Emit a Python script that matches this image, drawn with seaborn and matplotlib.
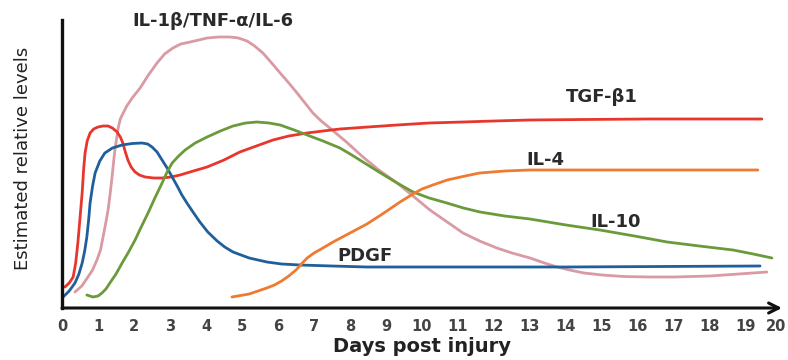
import matplotlib
matplotlib.use("Agg")
import matplotlib.pyplot as plt
import matplotlib.transforms as mtransforms
import seaborn as sns
import pandas as pd

# values (days post injury, relative level in arbitrary units)
tgf_days = [0.08, 0.2, 0.31, 0.38, 0.44, 0.5, 0.56, 0.6, 0.64, 0.7, 0.78, 0.88, 1.0, 1.14, 1.28,
            1.4, 1.53, 1.62, 1.69, 1.76, 1.83, 1.92, 2.03, 2.15, 2.31, 2.55, 2.78, 3.03, 3.28,
            3.65, 4.03, 4.5, 4.94, 5.4, 5.86, 6.3, 6.81, 7.25, 7.72, 8.5, 9.31, 10.2, 11.14,
            12.0, 13.0, 14.5, 16.3, 19.44]
tgf_level = [21, 25, 31, 45, 65, 90, 115, 138, 155, 167, 175, 179, 181, 182, 182,
             180, 176, 171, 165, 156, 148, 141, 136, 133, 131, 130, 130, 131, 133,
             137, 141, 148, 156, 162, 168, 172, 175, 177, 179, 181, 183, 185, 186,
             187, 188, 188.5, 189, 189]

pdgf_days = [0.03, 0.2, 0.36, 0.47, 0.56, 0.63, 0.69, 0.74, 0.78, 0.85, 0.92, 1.05, 1.19, 1.4,
             1.67, 1.95, 2.22, 2.38, 2.5, 2.64, 2.78, 2.92, 3.06, 3.2, 3.33, 3.47, 3.6, 3.83,
             4.05, 4.31, 4.52, 4.75, 5.2, 5.69, 6.1, 6.61, 7.5, 8.47, 10.5, 14.0, 19.39]
pdgf_level = [11, 17, 25, 34, 45, 57, 71, 88, 105, 122, 135, 147, 155, 160,
              163, 164.5, 165, 164, 161, 156, 148, 140, 131, 122, 113, 105, 98, 86,
              76, 67, 61, 56, 50, 46, 44, 43, 42, 41, 41, 41, 42]

il1_days = [0.36, 0.55, 0.72, 0.85, 0.97, 1.07, 1.14, 1.21, 1.28, 1.34, 1.39, 1.43, 1.47, 1.52,
            1.56, 1.62, 1.7, 1.8, 1.95, 2.17, 2.4, 2.64, 2.85, 3.08, 3.3, 3.56, 3.8, 4.03, 4.35,
            4.67, 4.9, 5.14, 5.35, 5.58, 5.8, 6.06, 6.3, 6.53, 6.75, 6.97, 7.2, 7.44, 7.9,
            8.36, 8.8, 9.31, 9.75, 10.22, 10.7, 11.14, 11.6, 12.08, 12.5, 13.0, 13.4, 13.75,
            14.1, 14.5, 15.0, 15.6, 16.3, 17.0, 18.0, 18.8, 19.58]
il1_level = [16, 22, 31, 38, 48, 58, 71, 84, 98, 115, 131, 145, 158, 170,
             180, 189, 195, 202, 210, 220, 233, 245, 254, 260, 264, 266, 268, 270, 271,
             271, 270, 267, 262, 255, 246, 235, 225, 215, 205, 195, 187, 180, 166,
             151, 138, 125, 112, 98, 86, 75, 67, 60, 55, 50, 45, 41,
             38, 35, 33, 31.5, 31, 31, 32, 34, 36]

il10_days = [0.69, 0.86, 1.0, 1.11, 1.22, 1.33, 1.5, 1.67, 1.85, 2.03, 2.2, 2.39, 2.58, 2.78,
             2.92, 3.06, 3.24, 3.42, 3.7, 4.03, 4.4, 4.75, 5.1, 5.42, 5.75, 6.06, 6.45, 6.81,
             7.25, 7.72, 8.05, 8.36, 8.85, 9.31, 9.75, 10.2, 10.69, 11.15, 11.61, 12.3, 13.0,
             14.0, 14.94, 15.9, 16.81, 17.7, 18.64, 19.2, 19.72]
il10_level = [13, 11, 12, 15, 19, 25, 34, 45, 56, 68, 81, 95, 110, 125,
              136, 145, 152, 158, 165, 171, 177, 182, 185, 186, 185, 183, 178, 173,
              167, 160, 153, 146, 135, 125, 116, 110, 105, 100, 96, 92, 89,
              83, 78, 72, 66, 62, 58, 54, 50]

il4_days = [4.72, 5.2, 5.69, 5.9, 6.1, 6.3, 6.5, 6.65, 6.81, 7.0, 7.2, 7.53, 8.0, 8.47, 8.9,
            9.39, 9.75, 10.0, 10.3, 10.7, 11.2, 11.6, 12.3, 13.0, 16.0, 19.33]
il4_level = [11, 14, 20, 23, 27, 32, 38, 44, 50, 55, 59, 66, 75, 84, 94,
             106, 114, 119, 123, 128, 132, 135, 137, 138, 138, 138]

series = {
    "IL-1β/TNF-α/IL-6": (il1_days, il1_level),
    "TGF-β1": (tgf_days, tgf_level),
    "PDGF": (pdgf_days, pdgf_level),
    "IL-10": (il10_days, il10_level),
    "IL-4": (il4_days, il4_level),
}
colors = {
    "IL-1β/TNF-α/IL-6": "#d99aa3",
    "TGF-β1": "#e8362d",
    "PDGF": "#1f5f9a",
    "IL-10": "#6b9a3b",
    "IL-4": "#ef7a32",
}
# label positions (day, level)
label_pos = {
    "IL-1β/TNF-α/IL-6": (4.19, 287),
    "TGF-β1": (15.0, 211),
    "IL-4": (13.44, 148),
    "IL-10": (15.39, 86),
    "PDGF": (8.42, 52),
}

rows = []
for name, (d, v) in series.items():
    for x, y in zip(d, v):
        rows.append({"day": x, "level": y, "marker": name})
df = pd.DataFrame(rows)

sns.set_theme(style="white")
plt.rcParams["font.family"] = ["DejaVu Sans"]

fig = plt.figure(figsize=(7.88, 3.6), dpi=100)
ax = fig.add_axes([62 / 788, 52 / 360, 720 / 788, 288 / 360])

sns.lineplot(data=df, x="day", y="level", hue="marker", palette=colors,
             estimator=None, sort=False, linewidth=2.0, legend=False, ax=ax)
for line in ax.get_lines():
    line.set_solid_joinstyle("round")
    line.set_solid_capstyle("round")

for name, (x, y) in label_pos.items():
    ax.text(x, y, name, ha="center", va="center", fontsize=13, fontweight="bold", color="#2a2a2a")

ax.set_xlim(0, 20)
ax.set_ylim(0, 288)
ax.set_xticks(range(0, 21))
ax.set_yticks([])
ax.tick_params(axis="x", direction="out", length=4, width=1.5, pad=4,
               labelsize=10.5, colors="#222222", labelcolor="#444444")
for lbl in ax.get_xticklabels():
    lbl.set_fontweight("bold")
last = ax.get_xticklabels()[-1]
last.set_transform(last.get_transform() + mtransforms.ScaledTranslation(-6 / 100, 0, fig.dpi_scale_trans))

for s in ["top", "right"]:
    ax.spines[s].set_visible(False)
ax.spines["left"].set_linewidth(2.4)
ax.spines["left"].set_color("#111111")
ax.spines["bottom"].set_visible(False)
ax.annotate("", xy=(20, 0), xytext=(0, 0), xycoords="data",
            arrowprops=dict(arrowstyle="->,head_length=0.6,head_width=0.3", lw=2.2, color="#111111",
                            shrinkA=0, shrinkB=0), annotation_clip=False)

ax.set_xlabel("Days post injury", fontsize=14, fontweight="bold", color="#222222", labelpad=2)
ax.set_ylabel("Estimated relative levels", fontsize=13, color="#222222")
ax.yaxis.set_label_coords(-30 / 720, 0.52)

fig.savefig("out.png", dpi=100)
